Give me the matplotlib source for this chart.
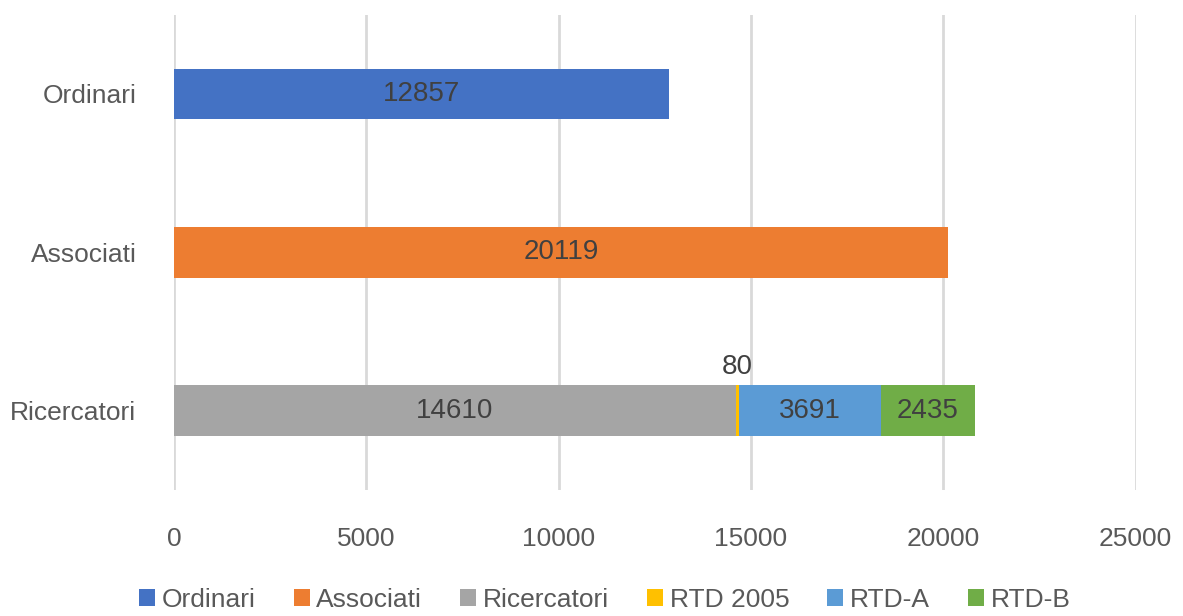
import numpy as np
from matplotlib import pyplot as plt

categories = ['Ordinari', 'Associati', 'Ricercatori']
series = ['Ordinari', 'Associati', 'Ricercatori', 'RTD 2005', 'RTD-A', 'RTD-B']
values = {
    'Ordinari': [12857, 0, 0],
    'Associati': [0, 20119, 0],
    'Ricercatori': [0, 0, 14610],
    'RTD 2005': [0, 0, 80],
    'RTD-A': [0, 0, 3691],
    'RTD-B': [0, 0, 2435],
}
colors = ['#4472C4', '#ED7D31', '#A5A5A5', '#FFC000', '#5B9BD5', '#70AD47']
xticks = [0, 5000, 10000, 15000, 20000, 25000]

plt.rcParams['font.family'] = ['Liberation Sans', 'DejaVu Sans']

fig = plt.figure(figsize=(11.83, 6.16), dpi=100)
ax = fig.add_axes([0.147, 0.205, 0.813, 0.771])

y = np.arange(len(categories))
left = np.zeros(len(categories))
for name, color in zip(series, colors):
    vals = np.array(values[name], dtype=float)
    bars = ax.barh(y, vals, left=left, height=0.32, color=color, label=name, zorder=3)
    for b, v in zip(bars, vals):
        if v <= 0:
            continue
        cx = b.get_x() + b.get_width() / 2
        cy = b.get_y() + b.get_height() / 2
        if v < 500:
            # too thin to hold its label: put it above the bar
            ax.text(cx, b.get_y() - 0.03, f'{int(v)}', ha='center', va='bottom',
                    fontsize=20, color='#404040')
        else:
            ax.text(cx, cy, f'{int(v)}', ha='center', va='center',
                    fontsize=20, color='#404040')
    left += vals

ax.set_ylim(2.5, -0.5)
ax.set_xlim(0, 25000)
ax.set_yticks(y)
ax.set_yticklabels(categories)
ax.set_xticks(xticks)
ax.xaxis.grid(True, color='#D9D9D9', linewidth=2, zorder=0)
ax.tick_params(axis='both', length=0, labelsize=19, colors='#595959')
ax.tick_params(axis='x', pad=27)
ax.tick_params(axis='y', pad=27)
for s in ax.spines.values():
    s.set_visible(False)

ax.legend(loc='center', bbox_to_anchor=(0.448, -0.232), ncol=6, frameon=False,
          fontsize=19, handlelength=0.6, handleheight=0.6, handletextpad=0.25,
          columnspacing=1.45, labelcolor='#595959', borderpad=0)

fig.savefig('out.png', dpi=100)
plt.close(fig)
